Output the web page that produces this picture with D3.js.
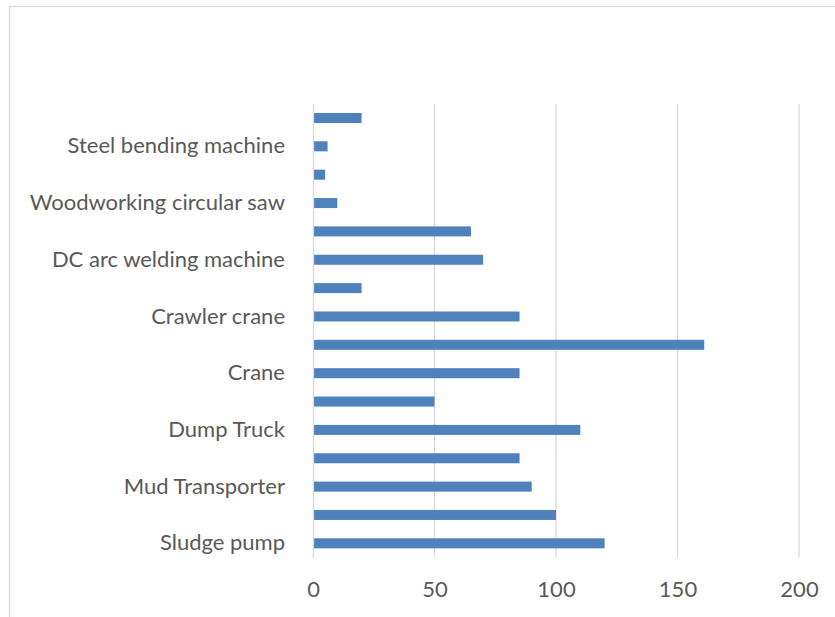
<!DOCTYPE html>
<html>
<head>
<meta charset="utf-8">
<script src="https://cdn.jsdelivr.net/npm/d3@7"></script>
<style>
  html, body { margin: 0; padding: 0; background: #fff; }
  svg { display: block; }
  text { font-family: "Lato", "Noto Sans", sans-serif; fill: #595959; }
</style>
</head>
<body>
<div id="chart"></div>
<script>
// Equipment list, bottom to top; only every other row carries a printed label
const categories = [
  "Sludge pump", "", "Mud Transporter", "", "Dump Truck", "", "Crane", "",
  "Crawler crane", "", "DC arc welding machine", "", "Woodworking circular saw", "",
  "Steel bending machine", ""
];
const values = [120, 100, 90, 85, 110, 50, 85, 161, 85, 20, 70, 65, 10, 5, 6, 20];
const xTicks = [0, 50, 100, 150, 200];

const W = 835, H = 617;
const plot = { left: 313, right: 799, top: 103.8, bottom: 557.5 };

const svg = d3.select("#chart").append("svg")
  .attr("width", W).attr("height", H);

// chart frame (runs off the right and bottom edges)
svg.append("rect")
  .attr("x", 9.5).attr("y", 6.5)
  .attr("width", W + 20).attr("height", H + 20)
  .attr("fill", "#fff")
  .attr("stroke", "#d9d9d9").attr("stroke-width", 1.3);

const x = d3.scaleLinear().domain([0, 200]).range([plot.left, plot.right]);
const y = d3.scaleBand()
  .domain(d3.range(categories.length))
  .range([plot.bottom, plot.top])
  .paddingInner(0.647)
  .paddingOuter(0.3235);

// vertical gridlines
svg.append("g")
  .selectAll("line")
  .data(xTicks.filter(t => t > 0))
  .join("line")
  .attr("x1", d => x(d)).attr("x2", d => x(d))
  .attr("y1", plot.top).attr("y2", plot.bottom)
  .attr("stroke", "#d9d9d9").attr("stroke-width", 1.3);

// bars
svg.append("g")
  .selectAll("rect")
  .data(values)
  .join("rect")
  .attr("x", x(0))
  .attr("y", (d, i) => y(i))
  .attr("width", d => x(d) - x(0))
  .attr("height", y.bandwidth())
  .attr("fill", "#4f81bd");

// category axis
const yAxis = svg.append("g")
  .attr("transform", `translate(${x(0)},0)`)
  .call(d3.axisLeft(y).tickSize(0).tickPadding(28).tickFormat(i => categories[i]));
yAxis.select(".domain").attr("stroke", "#d9d9d9").attr("stroke-width", 1.3);
yAxis.selectAll("text")
  .attr("font-size", 22)
  .attr("fill", "#595959")
  .style("font-family", "Lato, 'Noto Sans', sans-serif");

// value axis
const xAxis = svg.append("g")
  .attr("transform", `translate(0,${plot.bottom})`)
  .call(d3.axisBottom(x).tickValues(xTicks).tickSize(0).tickPadding(24));
xAxis.select(".domain").remove();
xAxis.selectAll("text")
  .attr("font-size", 22)
  .attr("fill", "#595959")
  .style("font-family", "Lato, 'Noto Sans', sans-serif");
</script>
</body>
</html>
